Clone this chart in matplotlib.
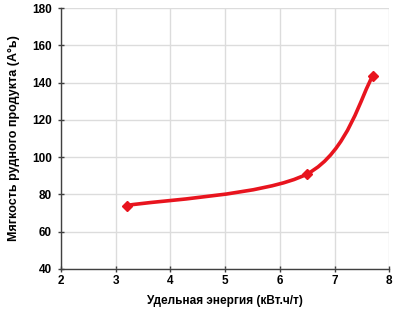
import matplotlib.pyplot as plt
import numpy as np
from matplotlib.path import Path
from matplotlib.patches import PathPatch

energy = [3.2, 6.5, 7.7]
softness = [74, 91, 143.5]
x_ticks = [2, 3, 4, 5, 6, 7, 8]
y_ticks = [40, 60, 80, 100, 120, 140, 160, 180]

plt.rcParams['font.family'] = ['Liberation Sans', 'DejaVu Sans']
RED = '#e8141e'

fig = plt.figure(figsize=(3.94, 3.22), dpi=100)
ax = fig.add_axes([0.155, 0.165, 0.833, 0.81])


# excel-like smoothed line: bezier segments with control points from neighbours
def smooth_path(xs, ys):
    p = np.column_stack([xs, ys]).astype(float)
    verts = [p[0]]
    codes = [Path.MOVETO]
    n = len(p)
    for i in range(n - 1):
        prev = p[i - 1] if i > 0 else p[i]
        nxt = p[i + 2] if i + 2 < n else p[i + 1]
        c1 = p[i] + (p[i + 1] - prev) / 6
        c2 = p[i + 1] - (nxt - p[i]) / 6
        verts += [c1, c2, p[i + 1]]
        codes += [Path.CURVE4] * 3
    return Path(verts, codes)


ax.add_patch(PathPatch(smooth_path(energy, softness), facecolor='none',
                       edgecolor=RED, lw=2.6, zorder=3, capstyle='round'))
ax.plot(energy, softness, ls='none', marker='D', ms=5.5, color=RED, zorder=4)

ax.set_xlim(2, 8)
ax.set_ylim(40, 180)
ax.set_xticks(x_ticks)
ax.set_yticks(y_ticks)
ax.grid(True, color='#dcdcdc', lw=1)
ax.set_axisbelow(True)
for s in ['top', 'right']:
    ax.spines[s].set_visible(False)
for s in ['left', 'bottom']:
    ax.spines[s].set_color('#404040')
    ax.spines[s].set_linewidth(1)
ax.tick_params(direction='inout', length=5, width=1, color='#404040',
               labelsize=8.5)
ax.tick_params(axis='x', pad=2)
ax.tick_params(axis='y', pad=4)
for lab in ax.get_xticklabels() + ax.get_yticklabels():
    lab.set_fontweight('bold')

ax.set_xlabel('Удельная энергия (кВт.ч/т)', fontsize=8.5, fontweight='bold', labelpad=6)
ax.set_ylabel('Мягкость рудного продукта (А°ь)', fontsize=9, fontweight='bold', labelpad=9)

fig.savefig('out.png', dpi=100)
